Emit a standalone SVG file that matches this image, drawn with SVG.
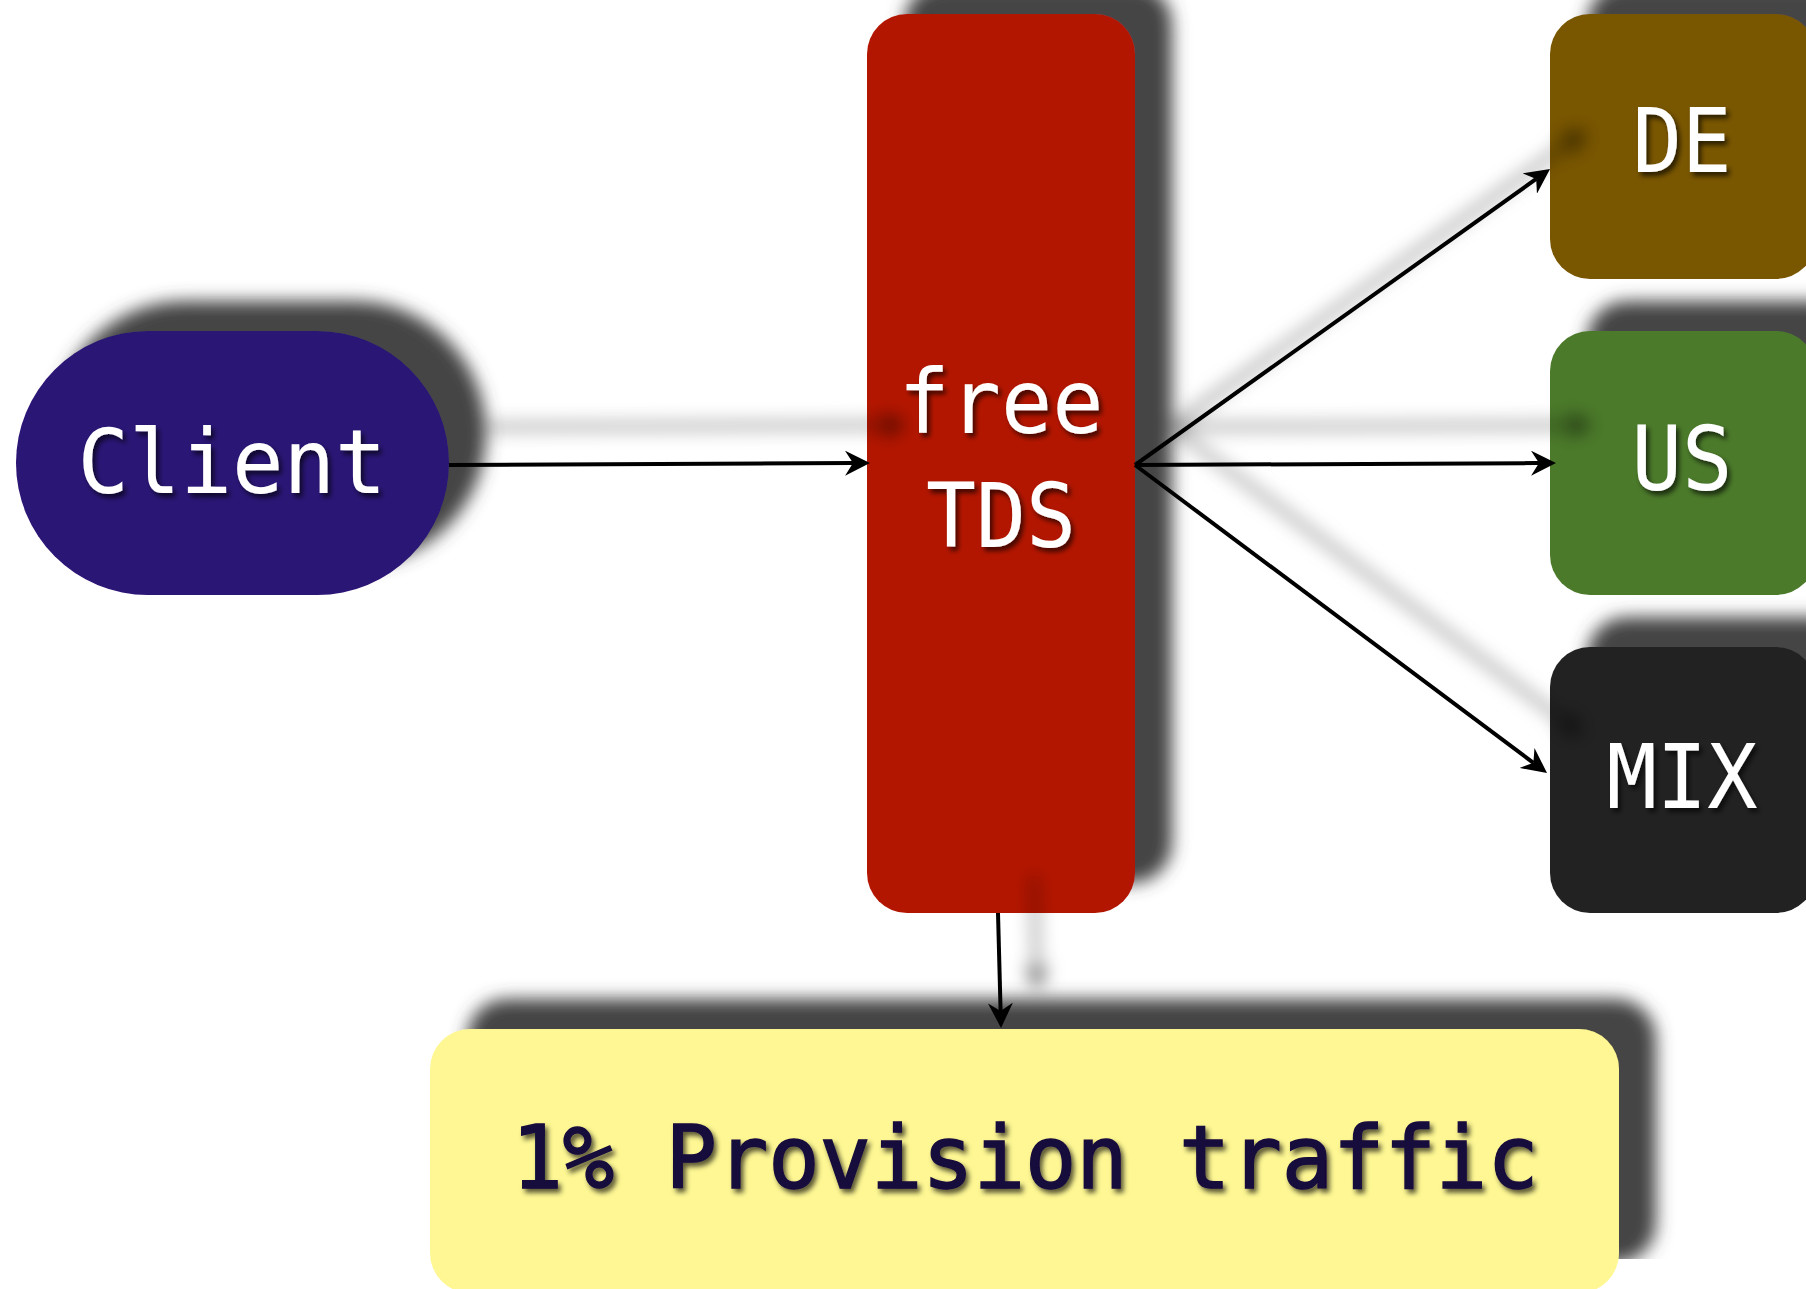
<svg xmlns="http://www.w3.org/2000/svg" width="1806" height="1289" viewBox="0 0 1806 1289">
  <defs>
    <style>
      .lbl { font-family: "DejaVu Sans Mono", "Liberation Mono", monospace; font-size: 89px; text-anchor: middle; fill: #ffffff; filter: url(#textShadow); }
      .lbl-dark { fill: #13083c; stroke: #13083c; stroke-width: 1.5; font-size: 87px; }
      .node { filter: url(#nodeShadow); }
      .edge { fill: none; stroke: #000; stroke-width: 4; marker-end: url(#arrow); }
    </style>
    <!-- soft dark drop shadow thrown up and to the right by every node -->
    <filter id="nodeShadow" filterUnits="userSpaceOnUse" x="0" y="0" width="1806" height="1289">
      <feGaussianBlur in="SourceAlpha" stdDeviation="8.5"/>
      <feOffset dx="37" dy="-30" result="blur"/>
      <feFlood flood-color="#444444"/>
      <feComposite in2="blur" operator="in"/>
      <feMerge><feMergeNode/><feMergeNode in="SourceGraphic"/></feMerge>
    </filter>
    <!-- faint, wide shadow under the connector lines -->
    <filter id="edgeShadow" filterUnits="userSpaceOnUse" x="0" y="0" width="1806" height="1289">
      <feGaussianBlur in="SourceAlpha" stdDeviation="9"/>
      <feOffset dx="36" dy="-38" result="blur"/>
      <feFlood flood-color="#000" flood-opacity="0.7"/>
      <feComposite in2="blur" operator="in"/>
      <feMerge><feMergeNode/><feMergeNode in="SourceGraphic"/></feMerge>
    </filter>
    <!-- small shadow behind label glyphs -->
    <filter id="textShadow" x="-10%" y="-20%" width="120%" height="150%">
      <feGaussianBlur in="SourceAlpha" stdDeviation="2.5"/>
      <feOffset dx="3" dy="4" result="blur"/>
      <feFlood flood-color="#000" flood-opacity="0.65"/>
      <feComposite in2="blur" operator="in"/>
      <feMerge><feMergeNode/><feMergeNode in="SourceGraphic"/></feMerge>
    </filter>
    <marker id="arrow" markerUnits="userSpaceOnUse" viewBox="0 0 25 25" markerWidth="25" markerHeight="25" refX="8" refY="12.5" orient="auto">
      <path d="M0,0 L25,12.5 L0,25 L8,12.5 Z" fill="#000"/>
    </marker>
  </defs>

  <rect width="1806" height="1289" fill="#ffffff"/>

  <g id="client">
    <rect class="node" x="16" y="331" width="433" height="264" rx="132" ry="132" fill="#2c1274"/>
    <text class="lbl" x="232" y="493" textLength="309" lengthAdjust="spacingAndGlyphs">Client</text>
  </g>

  <g id="free-tds">
    <rect class="node" x="867" y="14" width="268" height="899" rx="40" ry="40" fill="#b31900"/>
    <text class="lbl" x="1001" y="433" textLength="205" lengthAdjust="spacingAndGlyphs">free</text>
    <text class="lbl" x="1001" y="547" textLength="150" lengthAdjust="spacingAndGlyphs">TDS</text>
  </g>

  <g id="de">
    <rect class="node" x="1550" y="14" width="266" height="265" rx="40" ry="40" fill="#795600"/>
    <text class="lbl" x="1682" y="172" textLength="99" lengthAdjust="spacingAndGlyphs">DE</text>
  </g>

  <g id="us">
    <rect class="node" x="1550" y="331" width="266" height="264" rx="40" ry="40" fill="#4c7a2b"/>
    <text class="lbl" x="1682" y="490" textLength="101" lengthAdjust="spacingAndGlyphs">US</text>
  </g>

  <g id="mix">
    <rect class="node" x="1550" y="647" width="266" height="266" rx="40" ry="40" fill="#222222"/>
    <text class="lbl" x="1682" y="808" textLength="151" lengthAdjust="spacingAndGlyphs">MIX</text>
  </g>

  <g id="provision">
    <rect class="node" x="430" y="1029" width="1189" height="264" rx="40" ry="40" fill="#fef793"/>
    <text class="lbl lbl-dark" x="1025" y="1188" textLength="1027" lengthAdjust="spacingAndGlyphs">1% Provision traffic</text>
  </g>

  <g id="connectors" filter="url(#edgeShadow)">
    <line class="edge" x1="449" y1="465" x2="853" y2="463.1"/>
    <line class="edge" x1="1135" y1="465" x2="1536.2" y2="178.9"/>
    <line class="edge" x1="1135" y1="465" x2="1539" y2="463.1"/>
    <line class="edge" x1="1135" y1="465" x2="1533.4" y2="762.8"/>
    <line class="edge" x1="998" y1="913" x2="1000.6" y2="1011"/>
  </g>
</svg>
